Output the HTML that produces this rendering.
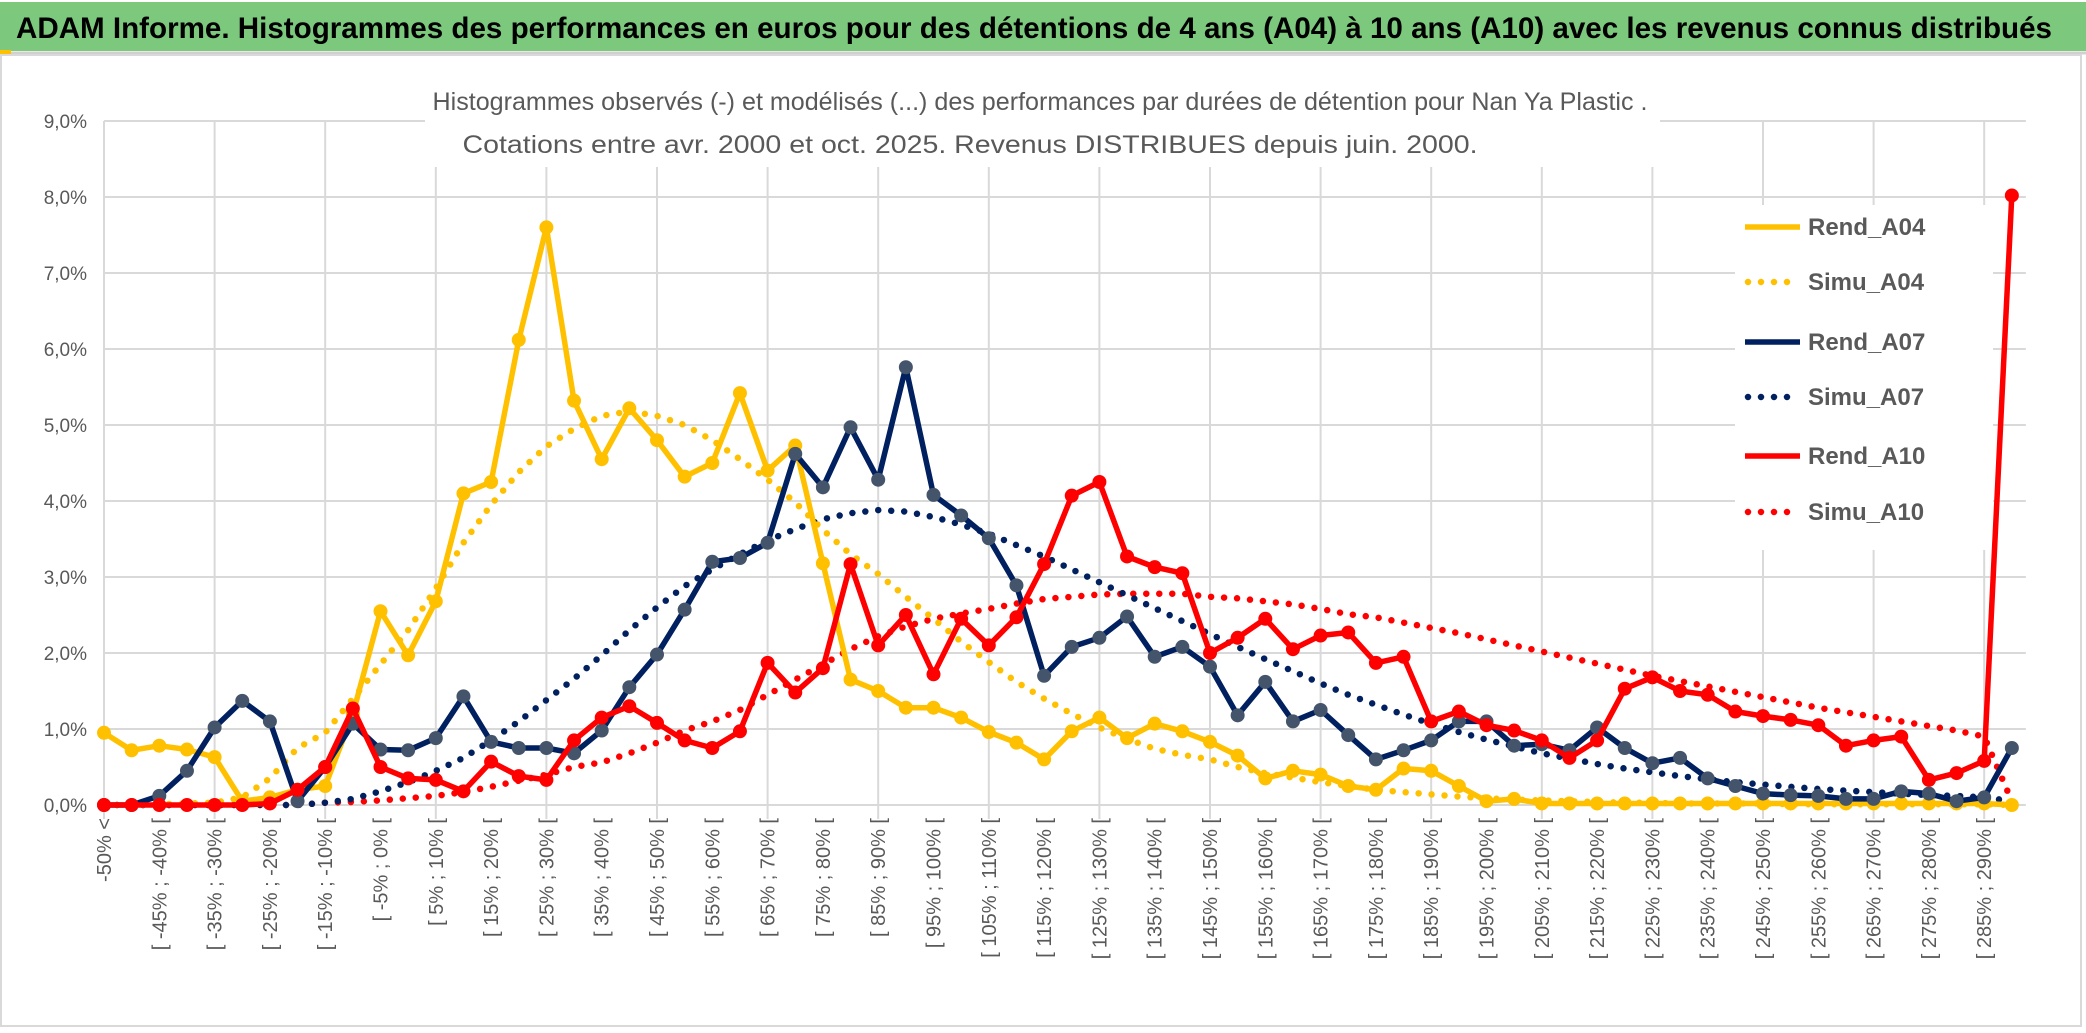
<!DOCTYPE html>
<html><head><meta charset="utf-8">
<style>
html,body{margin:0;padding:0;background:#fff;}
svg{display:block;font-family:"Liberation Sans",sans-serif;}
</style></head>
<body>
<svg id="chart" width="2086" height="1033" viewBox="0 0 2086 1033" xmlns="http://www.w3.org/2000/svg">
  <rect x="0" y="0" width="2086" height="1033" fill="#fff"/>
  <rect x="0" y="2" width="2086" height="49" fill="#7CC87D"/>
  <line x1="0" y1="53" x2="2086" y2="53" stroke="#d0d0d0" stroke-width="3"/>
  <rect x="0" y="50" width="11" height="4" fill="#FFC000"/>
  <text x="16" y="38" font-size="30" font-weight="bold" fill="#000" textLength="2036" lengthAdjust="spacingAndGlyphs">ADAM Informe. Histogrammes des performances en euros pour des détentions de 4 ans (A04) à 10 ans (A10) avec les revenus connus distribués</text>
  <rect x="1" y="55" width="2080" height="971" fill="none" stroke="#d9d9d9" stroke-width="2"/>
  <g id="grid"></g>
  <g id="yaxis"></g>
  <g id="xaxis"></g>
  <rect x="425" y="72" width="1235" height="95" fill="#fff"/>
  <g id="legend"></g>
  <g id="series"></g>
  <text x="1040" y="110" font-size="25" fill="#595959" text-anchor="middle" textLength="1215" lengthAdjust="spacingAndGlyphs">Histogrammes observés (-) et modélisés (...) des performances par durées de détention pour Nan Ya Plastic .</text>
  <text x="970" y="153" font-size="25" fill="#595959" text-anchor="middle" textLength="1015" lengthAdjust="spacingAndGlyphs">Cotations entre avr. 2000 et oct. 2025. Revenus DISTRIBUES depuis juin. 2000.</text>
</svg>
<script>
const categories = [];
categories.push("-50% <");
for (let b = -50; b < 295; b += 5) categories.push("[ " + b + "% ; " + (b + 5) + "% [");
const yTicks = ["0,0%","1,0%","2,0%","3,0%","4,0%","5,0%","6,0%","7,0%","8,0%","9,0%"];
const yTickValues = [0,1,2,3,4,5,6,7,8,9];

const rendA04 = [0.95,0.72,0.78,0.73,0.63,0.05,0.1,0.2,0.25,1.2,2.55,1.97,2.68,4.1,4.25,6.12,7.6,5.32,4.55,5.22,4.8,4.32,4.5,5.42,4.4,4.73,3.18,1.65,1.5,1.28,1.28,1.15,0.96,0.82,0.6,0.97,1.15,0.88,1.07,0.97,0.83,0.65,0.35,0.45,0.4,0.25,0.2,0.48,0.45,0.25,0.05,0.08,0.02,0.02,0.02,0.02,0.02,0.02,0.02,0.02,0.02,0.02,0.02,0.02,0.02,0.02,0.02,0.02,0.02,0.0];
const simuA04 = [0,0,0.01,0.02,0.03,0.1,0.35,0.75,0.95,1.4,1.85,2.3,2.85,3.45,3.95,4.38,4.72,4.95,5.12,5.18,5.12,5.0,4.8,4.55,4.28,3.98,3.62,3.3,3.04,2.74,2.45,2.15,1.88,1.62,1.4,1.2,1.02,0.87,0.74,0.66,0.6,0.5,0.42,0.36,0.3,0.25,0.2,0.17,0.14,0.11,0.09,0.07,0.06,0.05,0.04,0.03,0.03,0.02,0.02,0.02,0.02,0.01,0.01,0.01,0.01,0.01,0.01,0.01,0.01,0.0];
const rendA07 = [0,0,0.12,0.45,1.02,1.37,1.1,0.05,0.5,1.07,0.73,0.72,0.88,1.43,0.83,0.75,0.75,0.68,0.98,1.55,1.98,2.57,3.2,3.25,3.45,4.62,4.18,4.97,4.28,5.76,4.08,3.81,3.51,2.89,1.7,2.08,2.2,2.48,1.95,2.08,1.82,1.18,1.62,1.1,1.25,0.92,0.6,0.72,0.85,1.1,1.1,0.78,0.8,0.72,1.02,0.75,0.55,0.62,0.35,0.25,0.15,0.13,0.12,0.08,0.08,0.18,0.15,0.05,0.1,0.75];
const simuA07 = [0,0,0,0,0,0,0,0,0.03,0.08,0.18,0.3,0.45,0.62,0.85,1.1,1.38,1.66,1.97,2.3,2.6,2.88,3.1,3.3,3.48,3.63,3.76,3.84,3.88,3.86,3.79,3.69,3.57,3.42,3.27,3.1,2.93,2.76,2.59,2.42,2.25,2.08,1.92,1.76,1.6,1.45,1.32,1.19,1.07,0.96,0.86,0.77,0.68,0.61,0.54,0.48,0.43,0.38,0.34,0.3,0.27,0.24,0.21,0.19,0.17,0.15,0.13,0.12,0.1,0.05];
const rendA10 = [0,0,0,0,0,0,0.02,0.2,0.5,1.27,0.5,0.35,0.33,0.18,0.57,0.38,0.33,0.85,1.15,1.3,1.08,0.85,0.75,0.97,1.87,1.48,1.8,3.17,2.1,2.5,1.72,2.45,2.1,2.47,3.17,4.07,4.25,3.27,3.13,3.05,2.0,2.2,2.45,2.05,2.23,2.27,1.87,1.95,1.1,1.23,1.05,0.98,0.85,0.62,0.85,1.53,1.68,1.5,1.45,1.23,1.17,1.12,1.05,0.78,0.85,0.9,0.33,0.42,0.58,8.02];
const simuA10 = [0,0,0,0,0,0,0,0,0.03,0.04,0.06,0.09,0.12,0.17,0.24,0.32,0.4,0.5,0.56,0.68,0.82,0.98,1.1,1.25,1.45,1.65,1.85,2.05,2.22,2.35,2.45,2.52,2.58,2.65,2.71,2.74,2.77,2.78,2.78,2.78,2.74,2.72,2.68,2.64,2.58,2.51,2.47,2.4,2.33,2.26,2.18,2.1,2.02,1.94,1.86,1.78,1.7,1.63,1.56,1.49,1.42,1.35,1.28,1.22,1.16,1.1,1.04,0.98,0.9,0.05];

const seriesNames = ["Rend_A04","Simu_A04","Rend_A07","Simu_A07","Rend_A10","Simu_A10"];

const NS = "http://www.w3.org/2000/svg";
const X0 = 104, DX = 27.65, Y0 = 805, PY = 76;
function xs(i){ return X0 + i*DX; }
function ys(v){ return Y0 - v*PY; }
function mk(tag, attrs, parent){
  const e = document.createElementNS(NS, tag);
  for (const k in attrs) e.setAttribute(k, attrs[k]);
  parent.appendChild(e); return e;
}
const grid = document.getElementById('grid');
const yaxis = document.getElementById('yaxis');
const xaxis = document.getElementById('xaxis');
const seriesG = document.getElementById('series');
const legend = document.getElementById('legend');
const xRight = xs(categories.length - 1) + 14;

yTickValues.forEach((v, k) => {
  const l = mk('line', {x1:X0, x2:xRight, y1:ys(v), y2:ys(v), stroke:'#d9d9d9', 'stroke-width':2}, grid);
  
  
  const t = mk('text', {x:87, y:ys(v)+7, 'font-size':19, fill:'#595959', 'text-anchor':'end'}, yaxis);
  t.textContent = yTicks[k];
  
  
});
for (let i = 0; i < categories.length; i += 4) {
  const l = mk('line', {x1:xs(i), x2:xs(i), y1:ys(9), y2:Y0+14, stroke:'#d9d9d9', 'stroke-width':2}, grid);
  
  
}
for (let i = 0; i < categories.length; i += 2) {
  const x = xs(i) + 7, y = 818;
  const t = mk('text', {x:x, y:y, 'font-size':20, fill:'#595959', 'text-anchor':'end', transform:'rotate(-90 '+x+' '+y+')'}, xaxis);
  t.textContent = categories[i];
  
  
}

function drawLine(vals, color, name, markerFill){
  const pts = vals.map((v,i) => xs(i).toFixed(1)+','+ys(v).toFixed(1)).join(' ');
  const g = mk('g', {}, seriesG);
  
  
  const pl = mk('polyline', {points:pts, fill:'none', stroke:color, 'stroke-width':5.5, 'stroke-linejoin':'round'}, g);
  
  
  vals.forEach((v,i) => {
    const c = mk('circle', {cx:xs(i), cy:ys(v), r:6.5, fill:markerFill, stroke:markerFill, 'stroke-width':1}, g);
    
    
  });
}
function drawDotted(vals, color, name){
  const pts = vals.map((v,i) => xs(i).toFixed(1)+','+ys(v).toFixed(1)).join(' ');
  const pl = mk('polyline', {points:pts, fill:'none', stroke:color, 'stroke-width':6.5, 'stroke-linecap':'round', 'stroke-dasharray':'0 13'}, seriesG);
  
  
}
drawDotted(simuA10, '#FF0000', 'simu-a10-line');
drawDotted(simuA07, '#002060', 'simu-a07-line');
drawDotted(simuA04, '#FFC000', 'simu-a04-line');
drawLine(rendA04, '#FFC000', 'rend-a04-series', '#FFC000');
drawLine(rendA07, '#002060', 'rend-a07-series', '#44546A');
drawLine(rendA10, '#FF0000', 'rend-a10-series', '#FF0000');

// legend
const lb = mk('rect', {x:1735, y:205, width:258, height:345, fill:'#fff'}, legend);


const legColors = ['#FFC000','#FFC000','#002060','#002060','#FF0000','#FF0000'];
const legY = [235, 290, 350, 405, 464, 520];
seriesNames.forEach((n, k) => {
  const g = mk('g', {}, legend);
  
  
  const y = legY[k];
  if (k % 2 === 0) {
    mk('line', {x1:1745, x2:1800, y1:y-8, y2:y-8, stroke:legColors[k], 'stroke-width':5.5}, g);
  } else {
    mk('line', {x1:1748, x2:1800, y1:y-8, y2:y-8, stroke:legColors[k], 'stroke-width':6.5, 'stroke-linecap':'round', 'stroke-dasharray':'0 13'}, g);
  }
  const t = mk('text', {x:1808, y:y, 'font-size':24, 'font-weight':'bold', fill:'#595959'}, g);
  t.textContent = n;
});
</script>
</body></html>
